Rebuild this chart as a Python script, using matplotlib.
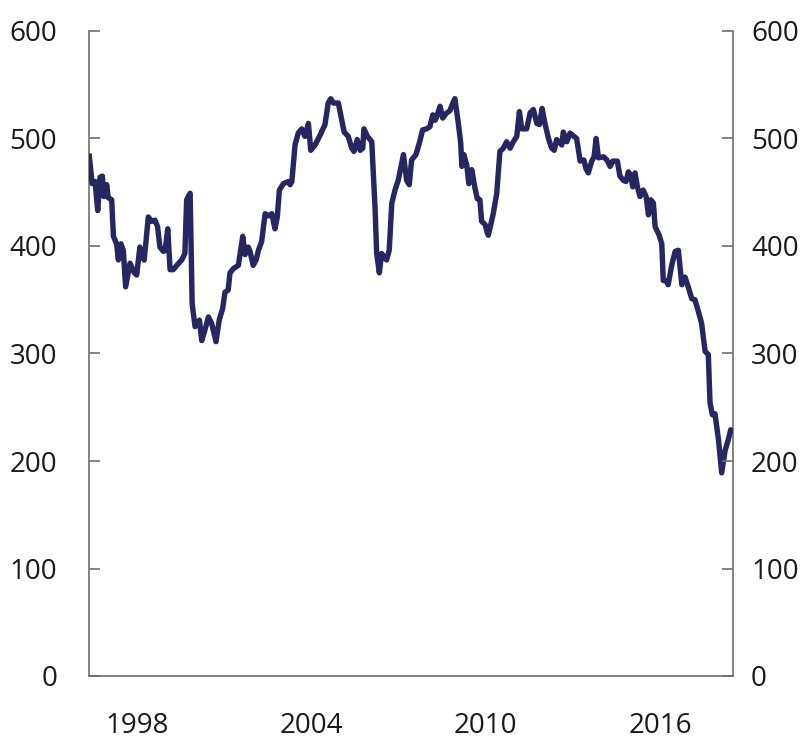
import matplotlib
matplotlib.use("Agg")
import matplotlib.pyplot as plt

years = [
    1996.35, 1996.46, 1996.56, 1996.65, 1996.73, 1996.81, 1996.86, 1996.96, 1997.01, 1997.13,
    1997.19, 1997.30, 1997.36, 1997.45, 1997.53, 1997.61, 1997.76, 1997.91, 1997.99, 1998.10,
    1998.18, 1998.25, 1998.39, 1998.51, 1998.62, 1998.71, 1998.79, 1998.91, 1998.97, 1999.06,
    1999.14, 1999.25, 1999.37, 1999.54, 1999.65, 1999.71, 1999.83, 1999.90, 2000.00, 2000.15,
    2000.23, 2000.34, 2000.46, 2000.57, 2000.72, 2000.83, 2000.95, 2001.03, 2001.14, 2001.20,
    2001.32, 2001.49, 2001.64, 2001.72, 2001.83, 2001.89, 2002.00, 2002.10, 2002.18, 2002.29,
    2002.41, 2002.52, 2002.64, 2002.75, 2002.83, 2002.90, 2003.04, 2003.21, 2003.27, 2003.33,
    2003.44, 2003.55, 2003.67, 2003.78, 2003.90, 2003.98, 2004.13, 2004.30, 2004.47, 2004.58,
    2004.67, 2004.76, 2004.93, 2005.05, 2005.13, 2005.27, 2005.39, 2005.47, 2005.58, 2005.68,
    2005.77, 2005.81, 2005.93, 2006.08, 2006.19, 2006.25, 2006.34, 2006.42, 2006.50, 2006.59,
    2006.68, 2006.77, 2006.88, 2006.99, 2007.17, 2007.28, 2007.37, 2007.45, 2007.60, 2007.72,
    2007.83, 2007.97, 2008.08, 2008.18, 2008.26, 2008.31, 2008.43, 2008.52, 2008.63, 2008.77,
    2008.87, 2008.94, 2009.06, 2009.14, 2009.18, 2009.25, 2009.35, 2009.42, 2009.52, 2009.63,
    2009.71, 2009.80, 2009.86, 2009.98, 2010.06, 2010.09, 2010.26, 2010.38, 2010.49, 2010.61,
    2010.72, 2010.84, 2010.95, 2011.07, 2011.16, 2011.24, 2011.41, 2011.53, 2011.64, 2011.76,
    2011.85, 2011.94, 2012.04, 2012.16, 2012.27, 2012.36, 2012.44, 2012.62, 2012.67, 2012.79,
    2012.90, 2013.04, 2013.13, 2013.25, 2013.38, 2013.45, 2013.53, 2013.65, 2013.73, 2013.80,
    2013.88, 2014.05, 2014.17, 2014.28, 2014.37, 2014.53, 2014.62, 2014.74, 2014.83, 2014.91,
    2014.99, 2015.06, 2015.14, 2015.22, 2015.31, 2015.42, 2015.52, 2015.60, 2015.68, 2015.77,
    2015.83, 2015.97, 2016.06, 2016.11, 2016.23, 2016.28, 2016.40, 2016.52, 2016.63, 2016.75,
    2016.86, 2016.97, 2017.09, 2017.20, 2017.32, 2017.43, 2017.55, 2017.66, 2017.72, 2017.80,
    2017.89, 2018.01, 2018.12, 2018.24, 2018.35, 2018.43, 2018.51,
]

values = [
    486, 458, 460, 433, 464, 465, 446, 457, 445, 443,
    409, 402, 387, 402, 396, 362, 384, 375, 373, 399,
    390, 387, 427, 423, 424, 418, 399, 395, 396, 416,
    378, 378, 382, 387, 393, 443, 449, 346, 325, 331,
    312, 322, 334, 328, 311, 331, 342, 357, 359, 375,
    379, 382, 409, 392, 399, 395, 382, 387, 396, 404,
    430, 428, 430, 416, 427, 452, 458, 460, 457, 460,
    494, 505, 509, 502, 514, 489, 494, 503, 513, 533,
    537, 533, 533, 517, 506, 502, 491, 488, 499, 489,
    491, 509, 502, 497, 437, 393, 375, 393, 390, 387,
    396, 440, 452, 461, 485, 461, 457, 480, 485, 496,
    508, 509, 511, 522, 517, 520, 530, 519, 523, 526,
    533, 537, 514, 496, 474, 485, 475, 458, 471, 454,
    444, 443, 423, 420, 412, 410, 430, 449, 488, 491,
    497, 491, 497, 502, 525, 509, 509, 524, 527, 514,
    513, 528, 514, 500, 491, 489, 499, 494, 506, 497,
    505, 502, 500, 479, 480, 472, 468, 479, 483, 500,
    482, 483, 480, 474, 479, 479, 465, 461, 460, 469,
    466, 455, 468, 455, 446, 452, 446, 429, 443, 440,
    418, 410, 402, 368, 367, 364, 382, 395, 396, 364,
    371, 362, 351, 350, 339, 328, 302, 299, 254, 243,
    244, 220, 189, 210, 220, 229, 226,
]

xticks = [1998, 2004, 2010, 2016]
yticks = [0, 100, 200, 300, 400, 500, 600]

plt.rcParams['font.family'] = ['Open Sans', 'DejaVu Sans']

fig = plt.figure(figsize=(8.0, 7.56), dpi=100)
ax = fig.add_axes([89/800, 1-676/756, (733-89)/800, (676-31)/756])

ax.plot(years, values, color='#262660', linewidth=3.9,
        solid_joinstyle='round', solid_capstyle='butt', zorder=3)

ax.set_xlim(years[0], years[-1])
ax.set_ylim(0, 600)
ax.set_xticks(xticks)
ax.set_xticklabels([str(y) for y in xticks])
ax.set_yticks(yticks)
ax.set_yticklabels([str(v) for v in yticks])

spine_color = '#6e6e6e'
for side in ['left', 'right', 'bottom']:
    ax.spines[side].set_color(spine_color)
    ax.spines[side].set_linewidth(1.2)
ax.spines['top'].set_visible(False)

ax.tick_params(axis='x', length=0, pad=26, labelsize=20, colors='#1a1a1a')
ax.tick_params(axis='y', direction='in', length=8, width=1.2,
               color=spine_color, labelsize=20, labelcolor='#1a1a1a',
               left=True, right=False, labelleft=True, labelright=False, pad=23)

# right-hand axis with the same scale
ax2 = ax.twinx()
ax2.set_ylim(ax.get_ylim())
ax2.set_yticks(yticks)
ax2.set_yticklabels([str(v) for v in yticks])
for side in ['left', 'right', 'bottom', 'top']:
    ax2.spines[side].set_visible(False)
ax2.tick_params(axis='y', direction='in', length=8, width=1.2,
                color=spine_color, labelsize=20, labelcolor='#1a1a1a',
                left=False, right=True, labelleft=False, labelright=True, pad=13)

fig.savefig('out.png', dpi=100)
